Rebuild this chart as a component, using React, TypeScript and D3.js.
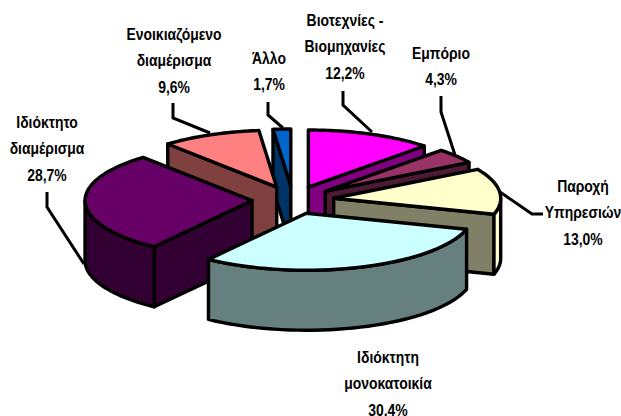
import * as d3 from "d3";

// values as printed on the chart (clockwise from 12 o'clock)
const values = [12.2, 4.3, 13.0, 30.4, 28.7, 9.6, 1.7];
const topColors = ["#ff00ff", "#993366", "#ffffcc", "#ccffff", "#660066", "#ff8080", "#0066cc"];
const wallColors = ["#800080", "#4d1a33", "#808066", "#668080", "#330033", "#804040", "#003366"];
const arcWallColors = ["#800080", "#4d1a33", "#ffffcc", "#668080", "#330033", "#804040", "#003366"];
// painter's order, back to front
const drawOrder = [6, 5, 0, 1, 2, 4, 3];

const labels = [
  { lines: ["Βιοτεχνίες -", "Βιομηχανίες", "12,2%"], x: 345, y: 26 },
  { lines: ["Εμπόριο", "4,3%"], x: 441, y: 59 },
  { lines: ["Παροχή", "Υπηρεσιών", "13,0%"], x: 583, y: 192 },
  { lines: ["Ιδιόκτητη", "μονοκατοικία", "30,4%"], x: 388, y: 363 },
  { lines: ["Ιδιόκτητο", "διαμέρισμα", "28,7%"], x: 47, y: 128 },
  { lines: ["Ενοικιαζόμενο", "διαμέρισμα", "9,6%"], x: 174, y: 40 },
  { lines: ["Άλλο", "1,7%"], x: 269, y: 64 },
];

const leaders: [number, number][][] = [
  [[372, 132], [343, 105], [343, 91]],
  [[455, 155], [441, 112], [441, 96]],
  [[500, 192], [532, 214], [543, 214]],
  [[84, 264], [47, 207], [47, 192]],
  [[210, 133], [173, 118], [173, 103]],
  [[283, 128], [268, 115], [268, 102]],
];

const cx = 293, cy = 200, rx = 167, ry = 57, depth = 60, explode = 41;

// pie plane -> screen
const sx = d3.scaleLinear().domain([-1, 1]).range([cx - rx, cx + rx]);
const sy = d3.scaleLinear().domain([-1, 1]).range([cy - ry, cy + ry]);

const pie = d3.pie<number>().sort(null).value((d) => d)(values);
const line = d3.line();

export default function App() {
  const faces: { d: string; fill: string }[] = [];
  drawOrder.forEach((i) => {
    const p = pie[i];
    const mid = (p.startAngle + p.endAngle) / 2;
    const e = explode / rx;
    const ox = e * Math.sin(mid);
    const oy = -e * Math.cos(mid);
    const pt = (a: number, r: number): [number, number] => [
      sx(ox + r * Math.sin(a)),
      sy(oy - r * Math.cos(a)),
    ];
    const down = ([x, y]: [number, number]): [number, number] => [x, y + depth];
    const apex = pt(0, 0);
    const arcPts = (a0: number, a1: number) =>
      d3.range(0, 41).map((k) => pt(a0 + ((a1 - a0) * k) / 40, 1));

    // radial faces that look towards the viewer
    if (Math.sin(p.startAngle) < -1e-6) {
      const o = pt(p.startAngle, 1);
      faces.push({ d: line([o, apex, down(apex), down(o)])! + "Z", fill: wallColors[i] });
    }
    if (Math.sin(p.endAngle) > 1e-6) {
      const o = pt(p.endAngle, 1);
      faces.push({ d: line([apex, o, down(o), down(apex)])! + "Z", fill: wallColors[i] });
    }
    // outer rim, front half only
    const f0 = Math.max(p.startAngle, Math.PI / 2);
    const f1 = Math.min(p.endAngle, (3 * Math.PI) / 2);
    if (f1 > f0) {
      const rim = arcPts(f0, f1);
      faces.push({ d: line([...rim, ...rim.slice().reverse().map(down)])! + "Z", fill: arcWallColors[i] });
    }
    // top
    faces.push({ d: line([apex, ...arcPts(p.startAngle, p.endAngle)])! + "Z", fill: topColors[i] });
  });

  return (
    <svg
      width={621}
      height={416}
      style={{ position: "fixed", left: 0, top: 0, background: "#fff" }}
    >
      {leaders.map((l, i) => (
        <path key={i} d={line(l)!} fill="none" stroke="#000" strokeWidth={3} />
      ))}
      {faces.map((f, i) => (
        <path key={i} d={f.d} fill={f.fill} stroke="#000" strokeWidth={3.4} strokeLinejoin="round" />
      ))}
      {labels.map((l, i) =>
        l.lines.map((t, j) => (
          <text
            key={`${i}-${j}`}
            // the source text is narrow and tall, so squeeze it sideways
            transform={`translate(${l.x},${l.y + j * 26.4}) scale(0.87,1)`}
            textAnchor="middle"
            fontFamily="'Liberation Sans', Arial, sans-serif"
            fontWeight="bold"
            fontSize={16}
            fill="#000"
          >
            {t}
          </text>
        ))
      )}
    </svg>
  );
}
